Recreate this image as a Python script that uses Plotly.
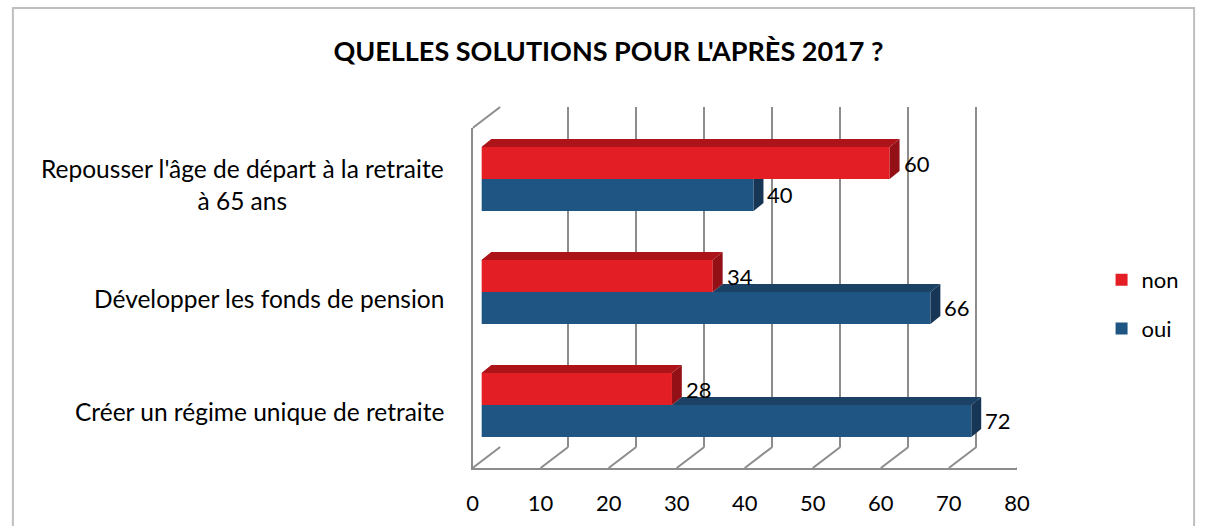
import plotly.graph_objects as go

# Données du sondage
categories = ["Créer un régime unique de retraite",
              "Développer les fonds de pension",
              "Repousser l'âge de départ à la retraite<br>à 65 ans"]
non = [28, 34, 60]
oui = [72, 66, 40]
ticks_x = [0, 10, 20, 30, 40, 50, 60, 70, 80]

# Palette
ROUGE = "#E41E25"
ROUGE_HAUT = "#AD1419"
ROUGE_COTE = "#921016"
BLEU = "#1F5583"
BLEU_HAUT = "#1B4164"
BLEU_COTE = "#173655"
GRILLE = "#8C8C8C"
CADRE = "#BFBFBF"
POLICE = "Lato, 'Open Sans', sans-serif"

# taille de la figure (un peu moins haute que la fenêtre pour éviter la barre de défilement)
W, H = 1213, 526


def fx(p):
    return p / W


def fy(p):
    return 1 - p / H


pos = list(range(len(categories)))
EP = 0.283        # épaisseur d'une barre (unités de catégorie)
DX = 1.45         # profondeur des barres en x (unités de valeur)
DY = 0.071        # profondeur des barres en y (unités de catégorie)
PROF_X = 4.05     # profondeur des murs en x (unités de valeur)
ECH = 553         # largeur en px de 0 à 80


def poly(pts, xs, ys):
    for x, y in pts + [pts[0]]:
        xs.append(x)
        ys.append(y)
    xs.append(None)
    ys.append(None)


# faces 3D calculées depuis les valeurs
rh_x, rh_y, rc_x, rc_y = [], [], [], []
bh_x, bh_y, bc_x, bc_y = [], [], [], []
for i, r, b in zip(pos, non, oui):
    bb, tb, tr = i - EP, i, i + EP
    poly([(0, tr), (r, tr), (r + DX, tr + DY), (DX, tr + DY)], rh_x, rh_y)
    poly([(r, tb), (r, tr), (r + DX, tr + DY), (r + DX, tb + DY)], rc_x, rc_y)
    if r < b:
        poly([(b, bb), (b, tb), (b + DX, tb + DY), (b + DX, bb + DY)], bc_x, bc_y)
        poly([(r, tb), (b, tb), (b + DX, tb + DY), (r + DX, tb + DY)], bh_x, bh_y)
    else:
        poly([(b, bb), (b, tb), (b + DX, tb), (b + DX, bb + DY)], bc_x, bc_y)

fig = go.Figure()
# trace vide pour que le mur du fond (grille) soit dessiné
fig.add_trace(go.Scatter(x=[], y=[], xaxis="x", yaxis="y", showlegend=False, hoverinfo="skip"))
fig.add_trace(go.Bar(name="non", y=pos, x=non, orientation="h", width=EP, offset=0,
                     marker=dict(color=ROUGE, line=dict(width=0)),
                     xaxis="x2", yaxis="y2", legendgroup="non"))
fig.add_trace(go.Bar(name="oui", y=pos, x=oui, orientation="h", width=EP, offset=-EP,
                     marker=dict(color=BLEU, line=dict(width=0)),
                     xaxis="x2", yaxis="y2", legendgroup="oui"))

for xs, ys, col in [(bc_x, bc_y, BLEU_COTE), (bh_x, bh_y, BLEU_HAUT),
                    (rc_x, rc_y, ROUGE_COTE), (rh_x, rh_y, ROUGE_HAUT)]:
    fig.add_trace(go.Scatter(x=xs, y=ys, fill="toself", fillcolor=col, mode="lines",
                             line=dict(width=0, color=col), hoverinfo="skip",
                             showlegend=False, xaxis="x2", yaxis="y2"))

# étiquettes de valeurs
annotations = []
for i, r, b in zip(pos, non, oui):
    annotations.append(dict(x=r + DX, y=i + EP / 2, xref="x2", yref="y2", text=str(r),
                            xanchor="left", xshift=2, showarrow=False,
                            font=dict(size=22, color="black", family=POLICE)))
    annotations.append(dict(x=b + DX, y=i - EP / 2, xref="x2", yref="y2", text=str(b),
                            xanchor="left", xshift=2, showarrow=False,
                            font=dict(size=22, color="black", family=POLICE)))

# libellés des catégories
for i, c in zip(pos, categories):
    annotations.append(dict(x=fx(447), y=i, xref="paper", yref="y3", text=c,
                            xanchor="right", align="center", showarrow=False,
                            font=dict(size=24.5, color="black", family=POLICE)))

# diagonales du plancher et du mur gauche
shapes = []
for v in ticks_x:
    shapes.append(dict(type="line", xref="x3", yref="paper", x0=v, y0=fy(468),
                       x1=v + PROF_X, y1=fy(447), line=dict(color=GRILLE, width=2)))
shapes.append(dict(type="line", xref="x3", yref="paper", x0=0, y0=fy(128),
                   x1=PROF_X, y1=fy(107), line=dict(color=GRILLE, width=2)))
# cadre du graphique
shapes.append(dict(type="rect", xref="paper", yref="paper", x0=fx(7), y0=fy(545),
                   x1=fx(1207), y1=fy(8), line=dict(color=CADRE, width=2)))

fig.update_layout(
    width=W, height=H, autosize=False,
    margin=dict(l=0, r=0, t=0, b=0),
    paper_bgcolor="white", plot_bgcolor="rgba(0,0,0,0)",
    font=dict(family=POLICE, color="black", size=22),
    barmode="overlay",
    title=dict(text="<b>QUELLES SOLUTIONS POUR L'APRÈS 2017 ?</b>", x=fx(612), xanchor="center",
               y=fy(52), yanchor="middle", xref="paper", yref="paper",
               font=dict(size=27, color="black", family=POLICE)),
    # mur du fond (grille)
    xaxis=dict(domain=[fx(502), fx(502 + ECH)], range=[0, 80], anchor="y",
               showgrid=True, gridcolor=GRILLE, gridwidth=2, tickvals=ticks_x,
               showticklabels=False, zeroline=False, showline=False, ticks=""),
    yaxis=dict(domain=[fy(447), fy(107)], range=[0, 1], anchor="x", visible=False),
    # plan des barres
    xaxis2=dict(domain=[fx(483), fx(483 + ECH)], range=[0, 80], anchor="y2", visible=False),
    yaxis2=dict(domain=[fy(461.5), fy(122.5)], range=[-0.5, 2.5], anchor="x2", visible=False),
    # plan avant (axe des valeurs)
    xaxis3=dict(domain=[fx(474), fx(474 + ECH)], range=[0, 80], anchor="y3",
                tickvals=ticks_x, showgrid=False, zeroline=False, showline=True,
                linecolor=GRILLE, linewidth=2, ticks="outside", ticklen=15,
                tickcolor="rgba(0,0,0,0)", tickfont=dict(size=22)),
    yaxis3=dict(domain=[fy(468), fy(128)], range=[-0.5, 2.5], anchor="x3",
                showline=True, linecolor=GRILLE, linewidth=2, showgrid=False,
                zeroline=False, showticklabels=False, ticks=""),
    legend=dict(x=fx(1113), y=fy(259), xanchor="left", yanchor="top",
                traceorder="grouped", tracegroupgap=17,
                font=dict(size=22), bgcolor="rgba(0,0,0,0)"),
    annotations=annotations,
    shapes=shapes,
)

fig.write_html("out.html", config={"responsive": False, "displayModeBar": False},
               post_script="document.body.style.margin='0px';"
                           "document.body.style.overflow='hidden';"
                           "document.documentElement.style.overflow='hidden';")
